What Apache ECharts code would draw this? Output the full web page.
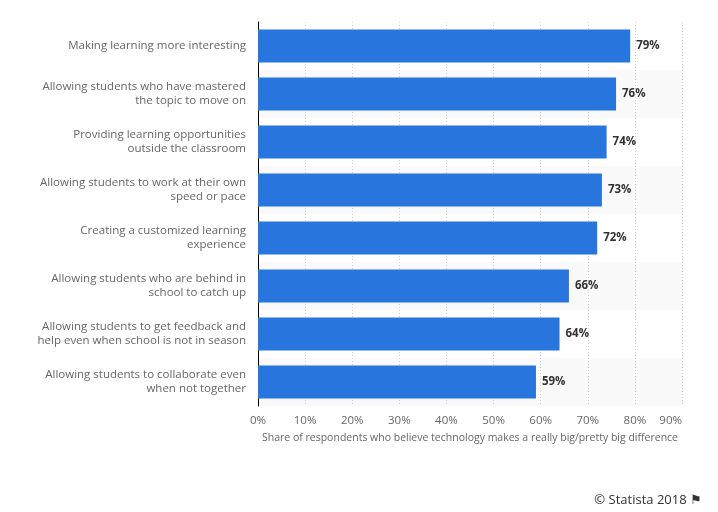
<!DOCTYPE html>
<html><head><meta charset="utf-8">
<script src="https://cdn.jsdelivr.net/npm/echarts@6/dist/echarts.min.js"></script>
<style>html,body{margin:0;padding:0;background:#fff}#c{width:718px;height:512px}</style>
</head><body><div id="c"></div>
<script>
const categories = [
  "Making learning more interesting",
  "Allowing students who have mastered\nthe topic to move on",
  "Providing learning opportunities\noutside the classroom",
  "Allowing students to work at their own\nspeed or pace",
  "Creating a customized learning\nexperience",
  "Allowing students who are behind in\nschool to catch up",
  "Allowing students to get feedback and\nhelp even when school is not in season",
  "Allowing students to collaborate even\nwhen not together"
];
const values = [79, 76, 74, 73, 72, 66, 64, 59];
const xTicks = [0, 10, 20, 30, 40, 50, 60, 70, 80, 90];
const axisTitle = "Share of respondents who believe technology makes a really big/pretty big difference";
const FONT = "Open Sans";
const chart = echarts.init(document.getElementById('c'));
chart.setOption({
  animation: false,
  textStyle: { fontFamily: FONT },
  grid: { left: 258, right: 36, top: 22, bottom: 106 },
  xAxis: {
    type: 'value', min: xTicks[0], max: xTicks[xTicks.length - 1], interval: 10,
    axisLine: { show: false }, axisTick: { show: false },
    splitLine: { show: true, lineStyle: { color: '#cfcfcf', type: [1, 2], width: 1 } },
    axisLabel: { formatter: '{value}%', color: '#666', fontSize: 11.5, margin: 9, fontFamily: FONT, alignMaxLabel: 'right' },
    name: axisTitle, nameLocation: 'middle', nameGap: 27,
    nameTextStyle: { color: '#666', fontSize: 10.5, fontFamily: FONT }
  },
  yAxis: {
    type: 'category', data: categories, inverse: true,
    axisLine: { show: true, lineStyle: { color: '#000', width: 1 } },
    axisTick: { show: false },
    axisLabel: { color: '#666', fontSize: 11.5, margin: 12, lineHeight: 14, fontFamily: FONT, align: 'right' },
    splitArea: { show: true, areaStyle: { color: ['#ffffff', '#f9f9f9'] } }
  },
  series: [{
    type: 'bar', data: values, barCategoryGap: '31%',
    itemStyle: { color: '#2876dd' },
    label: { show: true, position: 'right', formatter: '{c}%', color: '#333', fontWeight: 'bold', fontSize: 11.5, distance: 6, fontFamily: FONT }
  }],
  graphic: [{
    type: 'text', right: 16, top: 494,
    style: { text: '© Statista 2018 \u2691', fill: '#333', fontSize: 13, fontFamily: FONT }
  }]
});
</script></body></html>
